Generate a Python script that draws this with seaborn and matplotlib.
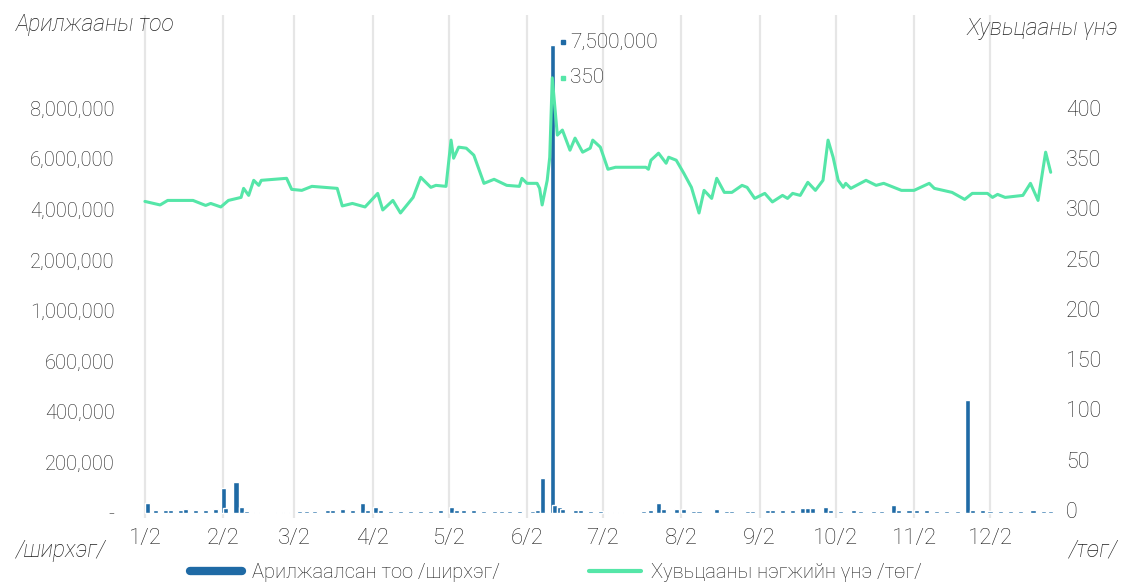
import numpy as np
import pandas as pd
import seaborn as sns
import matplotlib.pyplot as plt
from matplotlib.lines import Line2D
from matplotlib.transforms import offset_copy

start = pd.Timestamp("2023-01-02")

# Хувьцааны үнэ: day offset from 1/2, price /төг/
price_day = [0, 6, 9, 19, 24, 26, 30, 33, 38, 39, 41, 43, 45, 46, 56, 58, 62, 66, 76, 78,
             82, 87, 92, 94, 98, 101, 106, 109, 113, 115, 119, 121, 122, 124, 127, 130, 134,
             138, 143, 148, 149, 151, 155, 156, 157, 159, 160, 161, 163, 165, 168, 170, 173,
             176, 177, 180, 183, 186, 198, 199, 200, 203, 206, 207, 210, 213, 216, 219, 221,
             224, 226, 229, 232, 236, 238, 241, 245, 248, 252, 254, 256, 259, 262, 265, 268,
             270, 272, 274, 276, 277, 279, 285, 289, 292, 299, 304, 310, 312, 319, 324, 327,
             333, 335, 337, 340, 347, 350, 353, 356, 358]
price = [307, 303.5, 308, 308, 303, 305, 301.5, 308, 311, 320, 313, 328, 323, 328, 330, 319,
         318, 322, 320, 302.5, 305, 301.5, 315, 298.5, 308, 295.5, 311, 331, 321, 323, 322,
         368, 350, 361, 360, 353, 325, 329, 323, 322, 330, 325, 325, 320, 303.5, 328, 351,
         430, 373, 378, 358, 370, 356, 360, 368, 361, 339, 341, 341, 339, 348, 355, 345, 351,
         348, 335, 321, 295.5, 318, 310, 330, 316, 316, 323, 321, 310, 315, 306.5, 313, 310,
         315, 313, 326, 318, 328, 368, 351, 328, 321, 325, 320, 328, 323, 325, 318, 318, 325,
         320, 316, 309, 315, 315, 311, 314, 311, 313, 325, 308, 356, 336]

# Арилжаалсан тоо: day offset from 1/2, volume /ширхэг/
vol_day = [1, 4, 8, 10, 14, 16, 20, 24, 28, 31, 32, 36, 38, 40, 44, 53, 56, 61, 64, 67, 72,
           74, 78, 82, 86, 88, 91, 93, 97, 101, 105, 109, 113, 117, 121, 123, 126, 130, 134,
           138, 141, 144, 148, 153, 155, 157, 161, 162, 164, 165, 170, 172, 176, 180, 184,
           188, 197, 200, 203, 205, 210, 213, 217, 219, 226, 230, 232, 238, 240, 246, 248,
           252, 256, 260, 262, 264, 269, 271, 275, 280, 283, 288, 291, 296, 298, 302, 305,
           309, 313, 317, 321, 325, 327, 331, 334, 338, 342, 346, 351, 355, 358]
volume = [40000, 10000, 10000, 10000, 10000, 15000, 10000, 10000, 15000, 100000, 20000,
          124000, 25000, 8000, 5000, 5000, 5000, 8000, 8000, 8000, 12000, 12000, 15000, 10000,
          40000, 12000, 25000, 12000, 8000, 8000, 8000, 8000, 8000, 10000, 25000, 10000,
          10000, 10000, 8000, 8000, 8000, 8000, 8000, 8000, 12000, 140000, 10500000, 30000,
          25000, 15000, 10000, 10000, 8000, 6000, 5000, 3000, 8000, 12000, 40000, 15000, 15000,
          15000, 8000, 8000, 15000, 8000, 8000, 8000, 8000, 10000, 10000, 10000, 10000, 18000,
          18000, 18000, 25000, 10000, 8000, 10000, 8000, 8000, 8000, 30000, 12000, 12000,
          10000, 10000, 8000, 8000, 8000, 447000, 10000, 10000, 8000, 8000, 8000, 8000, 12000,
          8000, 8000]

left_ticks = [0, 200000, 400000, 600000, 1000000, 2000000, 4000000, 6000000, 8000000]
left_labels = ["-", "200,000", "400,000", "600,000", "1,000,000", "2,000,000",
               "4,000,000", "6,000,000", "8,000,000"]
right_ticks = [0, 50, 100, 150, 200, 250, 300, 350, 400]
month_labels = [f"{m}/2" for m in range(1, 13)]
peak_labels = ["7,500,000", "350"]

blue = "#1f6aa5"
green = "#55e6a8"
txt = "#1e1e1e"

sns.set_theme(style="white")
plt.rcParams["font.family"] = ["Roboto", "DejaVu Sans"]
plt.rcParams["font.weight"] = "light"
plt.rcParams["font.size"] = 15
plt.rcParams["text.color"] = txt

price_dates = start + pd.to_timedelta(price_day, unit="D")
vol_dates = start + pd.to_timedelta(vol_day, unit="D")
month_ticks = [start + pd.DateOffset(months=i) for i in range(12)]

# uneven left axis: tick labels evenly spaced
scale_vals = [-200000, 0, 200000, 400000, 600000, 1000000, 2000000, 4000000, 6000000,
              8000000, 12000000]
scale_pos = [-1, 0, 1, 2, 3, 4, 5, 6, 7, 8, 10]


def fwd(v):
    return np.interp(v, scale_vals, scale_pos)


def inv(p):
    return np.interp(p, scale_pos, scale_vals)


fig = plt.figure(figsize=(11.26, 5.84), dpi=100)
ax = fig.add_axes([130 / 1126, 1 - 518 / 584, 925 / 1126, 503 / 584])
ax.set_yscale("function", functions=(fwd, inv))
ax.bar(vol_dates, volume, width=2.0, color=blue, zorder=2)
ax.set_ylim(inv(-0.1), inv(9.84))
ax.set_yticks(left_ticks)
ax.set_yticklabels(left_labels)
ax.set_xlim(start - pd.Timedelta(days=5.9), start + pd.Timedelta(days=359.7))
ax.set_xticks(month_ticks)
ax.set_xticklabels(month_labels)
ax.grid(axis="x", color="#e6e6e6", lw=1.6)
ax.set_axisbelow(True)
ax.tick_params(axis="y", length=0, pad=11, labelcolor=txt, labelsize=14.5)
ax.tick_params(axis="x", length=0, pad=7, labelcolor=txt, labelsize=16)

ax2 = ax.twinx()
sns.lineplot(x=price_dates, y=price, ax=ax2, color=green, lw=2.2)
ax2.set_ylim(-8, 492.5)
ax2.set_yticks(right_ticks)
ax2.tick_params(axis="y", length=0, pad=8, labelcolor=txt, labelsize=15.5)
ax2.set_ylabel("")

for a in (ax, ax2):
    for s in a.spines.values():
        s.set_visible(False)

# peak labels
i_vol = int(np.argmax(volume))
i_pr = int(np.argmax(price))
mk = offset_copy(ax.transData, fig=fig, x=8, y=2, units="points")
tk = offset_copy(ax.transData, fig=fig, x=13, y=2, units="points")
ax.plot(vol_dates[i_vol], volume[i_vol], "s", ms=3.5, color=blue, transform=mk, clip_on=False)
ax.text(vol_dates[i_vol], volume[i_vol], peak_labels[0], transform=tk, va="center",
        fontsize=15, color=txt)
mk2 = offset_copy(ax2.transData, fig=fig, x=8, y=0, units="points")
tk2 = offset_copy(ax2.transData, fig=fig, x=13, y=0, units="points")
ax2.plot(price_dates[i_pr], price[i_pr], "s", ms=3.5, color=green, transform=mk2, clip_on=False)
ax2.text(price_dates[i_pr], price[i_pr], peak_labels[1], transform=tk2, va="center",
         fontsize=15, color=txt)

fig.text(16 / 1126, 1 - 25 / 584, "Арилжааны тоо", style="italic", fontsize=16.5,
         ha="left", va="center")
fig.text(1118 / 1126, 1 - 28 / 584, "Хувьцааны үнэ", style="italic", fontsize=16.5,
         ha="right", va="center")
fig.text(16 / 1126, 1 - 550 / 584, "/ширхэг/", style="italic", fontsize=16.5,
         ha="left", va="center")
fig.text(1118 / 1126, 1 - 550 / 584, "/төг/", style="italic", fontsize=16.5,
         ha="right", va="center")

handles = [Line2D([], [], color=blue, lw=6), Line2D([], [], color=green, lw=3)]
fig.legend(handles, ["Арилжаалсан тоо /ширхэг/", "Хувьцааны нэгжийн үнэ /төг/"],
           loc="center", bbox_to_anchor=(556 / 1126, 1 - 573 / 584), ncol=2, frameon=False,
           handlelength=2.6, handletextpad=0.5, columnspacing=4.4, fontsize=14.5)

fig.savefig("out.png", dpi=100)
